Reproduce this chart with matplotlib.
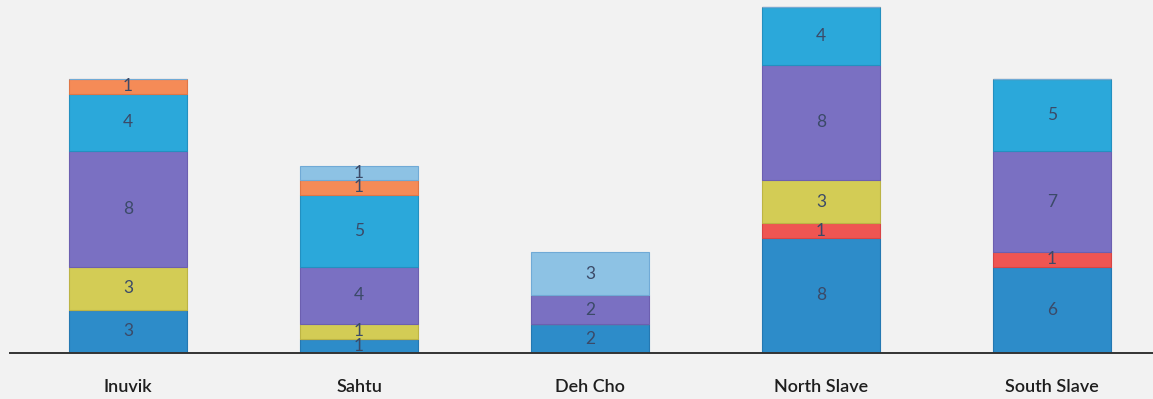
import numpy as np
import matplotlib.pyplot as plt

# regions and the count in each category, bottom segment first
regions = ["Inuvik", "Sahtu", "Deh Cho", "North Slave", "South Slave"]
blue = [3, 1, 2, 8, 6]
red = [0, 0, 0, 1, 1]
yellow = [3, 1, 0, 3, 0]
purple = [8, 4, 2, 8, 7]
cyan = [4, 5, 0, 4, 5]
orange = [1, 1, 0, 0, 0]
light_blue = [0, 1, 3, 0, 0]

series = [blue, red, yellow, purple, cyan, orange, light_blue]
colors = ["#2d8cc9", "#ef5552", "#d3cc55", "#7a70c2", "#2ba8da", "#f58b57", "#8dc2e4"]
edges = ["#2478b2", "#d84444", "#bcb444", "#6c5fb0", "#2390c0", "#e07646", "#70aad6"]

plt.rcParams['font.family'] = ['Lato', 'DejaVu Sans']

fig = plt.figure(figsize=(11.53, 3.99), dpi=100)
fig.patch.set_facecolor("#f2f2f2")
ax = fig.add_axes([0.0087, 0.1153, 0.9913, 0.8847])
ax.set_facecolor("#f2f2f2")

x = np.arange(len(regions))
bottom = np.zeros(len(regions))
for vals, c, ec in zip(series, colors, edges):
    vals = np.array(vals, dtype=float)
    ax.bar(x, vals, width=0.51, bottom=bottom, color=c, edgecolor=ec,
           linewidth=0.8, zorder=2)
    for xi, v, b in zip(x, vals, bottom):
        if v > 0:
            ax.text(xi, b + v / 2, f"{int(v)}", ha="center", va="center",
                    fontsize=12.5, color="#3b4a68", zorder=3)
    bottom += vals

ax.set_xlim(-0.511, 4.437)
ax.set_ylim(0, 24.5)
ax.set_yticks([])
ax.set_xticks(x)
ax.set_xticklabels(regions, fontsize=13, fontweight="semibold", color="#1e1e1e")
ax.tick_params(axis="x", length=0, pad=19)
for side in ["top", "right", "left"]:
    ax.spines[side].set_visible(False)
ax.spines["bottom"].set_color("#333333")
ax.spines["bottom"].set_linewidth(1.4)

fig.savefig("out.png", dpi=100, facecolor=fig.get_facecolor())
